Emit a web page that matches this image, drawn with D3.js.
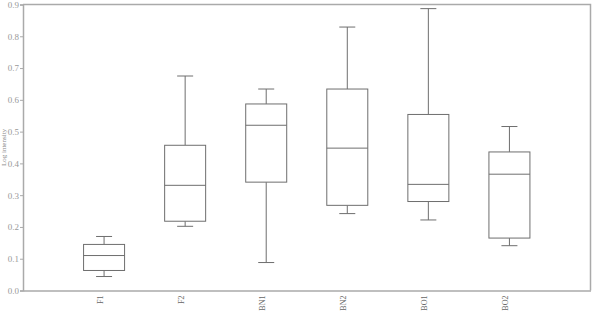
<!DOCTYPE html>
<html>
<head>
<meta charset="utf-8">
<script src="https://cdn.jsdelivr.net/npm/d3@7"></script>
<style>
  body { margin: 0; background: #fff; }
  svg text { font-family: "Liberation Serif", "DejaVu Serif", serif; }
</style>
</head>
<body>
<svg id="chart" width="592" height="314"></svg>
<script>
// groups and their five-number summaries
const groups = ["F1", "F2", "BN1", "BN2", "BO1", "BO2"]
const whiskerLow = [0.044, 0.202, 0.088, 0.242, 0.222, 0.141]
const q1 = [0.063, 0.218, 0.341, 0.268, 0.280, 0.165]
const median = [0.110, 0.331, 0.520, 0.448, 0.334, 0.366]
const q3 = [0.145, 0.457, 0.587, 0.634, 0.554, 0.436]
const whiskerHigh = [0.170, 0.675, 0.634, 0.829, 0.887, 0.516]
const yTicks = [0, 0.1, 0.2, 0.3, 0.4, 0.5, 0.6, 0.7, 0.8, 0.9]
const yLabel = "Log intensity"

const margin = {left: 23, top: 4.5, right: 1.5, bottom: 23.5}
const width = 592, height = 314
const svg = d3.select("#chart")

const x = d3.scalePoint()
  .domain(groups)
  .range([margin.left, width - margin.right])
  .padding(1)
const y = d3.scaleLinear()
  .domain([0, 0.9])
  .range([height - margin.bottom, margin.top])

const boxWidth = 41
const capWidth = 16
const lineColor = "#6e6e6e"
const frameColor = "#aaa"

const rows = groups.map((g, i) => ({
  name: g, lo: whiskerLow[i], q1: q1[i], med: median[i], q3: q3[i], hi: whiskerHigh[i]
}))

// frame: top and right borders
svg.append("path")
  .attr("d", `M${margin.left},${y(0.9)}H${width - margin.right}V${y(0)}`)
  .attr("fill", "none")
  .attr("stroke", frameColor)
  .attr("stroke-width", 1.5)

// y axis
const yAxis = svg.append("g")
  .attr("transform", `translate(${margin.left},0)`)
  .call(d3.axisLeft(y).tickValues(yTicks).tickFormat(d3.format(".1f")).tickSize(3).tickPadding(1))
yAxis.select(".domain").attr("stroke", frameColor).attr("stroke-width", 1.5)
yAxis.selectAll(".tick line").attr("stroke", frameColor)
yAxis.selectAll(".tick text")
  .attr("fill", "#999")
  .style("font-size", "9px")

// x axis
const xAxis = svg.append("g")
  .attr("transform", `translate(0,${y(0)})`)
  .call(d3.axisBottom(x).tickSize(0).tickPadding(4))
xAxis.select(".domain").attr("stroke", frameColor).attr("stroke-width", 1.5)
xAxis.selectAll(".tick text")
  .attr("fill", "#666")
  .style("font-size", "8px")
  .attr("text-anchor", "end")
  .attr("dy", "0.32em")
  .attr("transform", "rotate(-90) translate(-5,-4)")
  .attr("y", 0)
  .attr("x", 0)

// y label
svg.append("text")
  .attr("transform", `translate(4,${(y(0) + y(0.9)) / 2}) rotate(-90)`)
  .attr("text-anchor", "middle")
  .attr("dy", "0.3em")
  .attr("fill", "#888")
  .style("font-size", "7px")
  .text(yLabel)

// boxes
const box = svg.append("g").selectAll("g")
  .data(rows)
  .join("g")
  .attr("stroke", lineColor)
  .attr("stroke-width", 1)
  .attr("fill", "none")

box.append("line")
  .attr("x1", d => x(d.name)).attr("x2", d => x(d.name))
  .attr("y1", d => y(d.q3)).attr("y2", d => y(d.hi))
box.append("line")
  .attr("x1", d => x(d.name)).attr("x2", d => x(d.name))
  .attr("y1", d => y(d.q1)).attr("y2", d => y(d.lo))
box.append("line")
  .attr("x1", d => x(d.name) - capWidth / 2).attr("x2", d => x(d.name) + capWidth / 2)
  .attr("y1", d => y(d.hi)).attr("y2", d => y(d.hi))
box.append("line")
  .attr("x1", d => x(d.name) - capWidth / 2).attr("x2", d => x(d.name) + capWidth / 2)
  .attr("y1", d => y(d.lo)).attr("y2", d => y(d.lo))
box.append("rect")
  .attr("x", d => x(d.name) - boxWidth / 2)
  .attr("width", boxWidth)
  .attr("y", d => y(d.q3))
  .attr("height", d => y(d.q1) - y(d.q3))
  .attr("fill", "#fff")
box.append("line")
  .attr("x1", d => x(d.name) - boxWidth / 2).attr("x2", d => x(d.name) + boxWidth / 2)
  .attr("y1", d => y(d.med)).attr("y2", d => y(d.med))
</script>
</body>
</html>
